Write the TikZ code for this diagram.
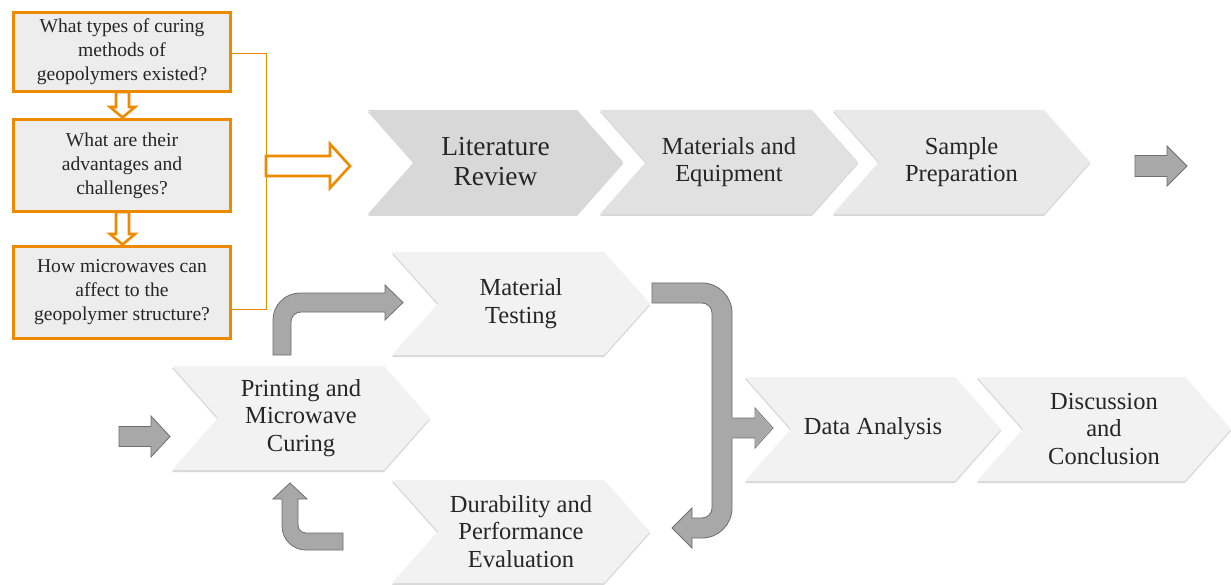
\documentclass[tikz,border=0pt]{standalone}
\usepackage{fontspec}
\setmainfont{Liberation Serif}
\usetikzlibrary{shadows}
\definecolor{qorange}{RGB}{238,138,0}
\definecolor{qfill}{RGB}{237,237,237}
\definecolor{cLit}{RGB}{216,216,216}
\definecolor{cMat}{RGB}{225,225,225}
\definecolor{cSam}{RGB}{233,233,233}
\definecolor{cLow}{RGB}{242,242,242}
\definecolor{garrow}{RGB}{168,168,168}
\definecolor{garrowline}{RGB}{110,110,110}
\definecolor{txt}{RGB}{38,38,38}
\tikzset{
  chev/.style={drop shadow={shadow xshift=0pt,shadow yshift=-2pt,opacity=0.25,fill=black!60}},
  ctext/.style={align=center,text=txt,inner sep=0pt},
  qbox/.style={draw=qorange,line width=2.8pt,fill=qfill,align=center,text=txt,inner sep=0pt,
     font={\fontsize{19.6}{24}\selectfont},minimum width=217pt},
  hollow/.style={draw=qorange,line width=2.6pt,fill=white,line join=miter},
  thinor/.style={draw=qorange,line width=0.9pt},
  blockarrow/.style={fill=garrow,draw=garrowline,line width=0.8pt,line join=miter}
}
\newcommand\chevron[8]{%
  \path[chev,fill=#6] (#2,#3) -- ({#2+#4-46},#3) -- ({#2+#4},{#3+#5/2}) -- ({#2+#4-46},{#3+#5}) -- (#2,{#3+#5}) -- ({#2+46},{#3+#5/2}) -- cycle;
  \node[ctext,font={#7}] (#1) at ({#2+#4/2},{#3+#5/2}) {#8};}
\begin{document}
\begin{tikzpicture}[x=1pt,y=-1pt]
\useasboundingbox (0,0) rectangle (1231,585);
\fill[white] (0,0) rectangle (1231,585);

% chevrons
\def\big{\fontsize{27.5}{30}\selectfont}
\def\med{\fontsize{24.5}{27.5}\selectfont}
\chevron{lit}{368}{110}{255}{104}{cLit}{\big}{Literature\\Review}
\chevron{mat}{600}{110}{258}{104}{cMat}{\med}{Materials and\\Equipment}
\chevron{sam}{833}{110}{257}{104}{cSam}{\med}{Sample\\Preparation}
\chevron{mt}{392}{252}{258}{103}{cLow}{\med}{Material\\Testing}
\chevron{pmc}{172}{366}{258}{104}{cLow}{\med}{Printing and\\Microwave\\Curing}
\chevron{dur}{392}{480}{258}{103}{cLow}{\med}{Durability and\\Performance\\Evaluation}
\chevron{da}{745}{377}{256}{104}{cLow}{\med}{Data Analysis}
\chevron{dc}{977}{377}{254}{104}{cLow}{\med}{Discussion\\and\\Conclusion}

% orange small hollow arrows (behind boxes)
\path[hollow] (116,92) -- (129,92) -- (129,107) -- (135,107) -- (122.5,117.5) -- (110,107) -- (116,107) -- cycle;
\path[hollow] (116,212) -- (129,212) -- (129,234) -- (135,234) -- (122.5,244.5) -- (110,234) -- (116,234) -- cycle;

% orange question boxes
\node[qbox,minimum height=79pt] (q1) at (122,52) {What types of curing\\methods of\\geopolymers existed?};
\node[qbox,minimum height=92pt] (q2) at (122,165.5) {What are their\\advantages and\\challenges?};
\node[qbox,minimum height=92pt] (q3) at (122,292.5) {How microwaves can\\affect to the\\geopolymer structure?};

% bracket
\coordinate (bt) at (266,53);
\coordinate (bb) at (266,309);
\draw[thinor] (232,53) -- (bt) -- (bb) -- (232,309);

% big hollow orange arrow
\path[hollow] (266,156) -- (330,156) -- (330,144) -- (350,166) -- (330,188) -- (330,176) -- (266,176) -- cycle;

% gray block arrows
\path[blockarrow] (1135,155.5) -- (1167,155.5) -- (1167,146) -- (1187,166) -- (1167,186) -- (1167,176.5) -- (1135,176.5) -- cycle;
\path[blockarrow] (119,426.5) -- (151,426.5) -- (151,416) -- (170,436.5) -- (151,457) -- (151,446.5) -- (119,446.5) -- cycle;
% up-right bent arrow
\path[blockarrow] (273,355) -- (273,320) .. controls (273,305.1) and (285.1,293) .. (300,293) -- (385,293) -- (385,285) -- (403,302.5) -- (385,320) -- (385,312) -- (301,312) .. controls (295.5,312) and (291,316.5) .. (291,322) -- (291,355) -- cycle;
% bottom-left up arrow
\path[blockarrow] (290,483) -- (307,499) -- (298,499) -- (298,525) .. controls (298,529.4) and (301.6,533) .. (306,533) -- (343,533) -- (343,550) -- (306,550) .. controls (292.7,550) and (282,539.3) .. (282,526) -- (282,499) -- (273,499) -- cycle;
% big J arrow
\path[blockarrow] (652,283) -- (702,283) .. controls (718.6,283) and (732,296.4) .. (732,313) -- (732,508) .. controls (732,524.6) and (718.6,538) .. (702,538) -- (692,538) -- (692,548) -- (672,528) -- (692,508) -- (692,518) -- (702,518) .. controls (707.5,518) and (712,513.5) .. (712,508) -- (712,313) .. controls (712,307.5) and (707.5,303) .. (702,303) -- (652,303) -- cycle;
% branch to data analysis
\fill[garrow] (731.4,418) rectangle (756,438);
\draw[blockarrow,fill=none] (732.4,418) -- (755,418) -- (755,408) -- (773,428) -- (755,448) -- (755,438) -- (732.4,438);
\fill[garrow] (755,418) -- (755,408.8) -- (772,428) -- (755,447.2) -- cycle;
\end{tikzpicture}
\end{document}
